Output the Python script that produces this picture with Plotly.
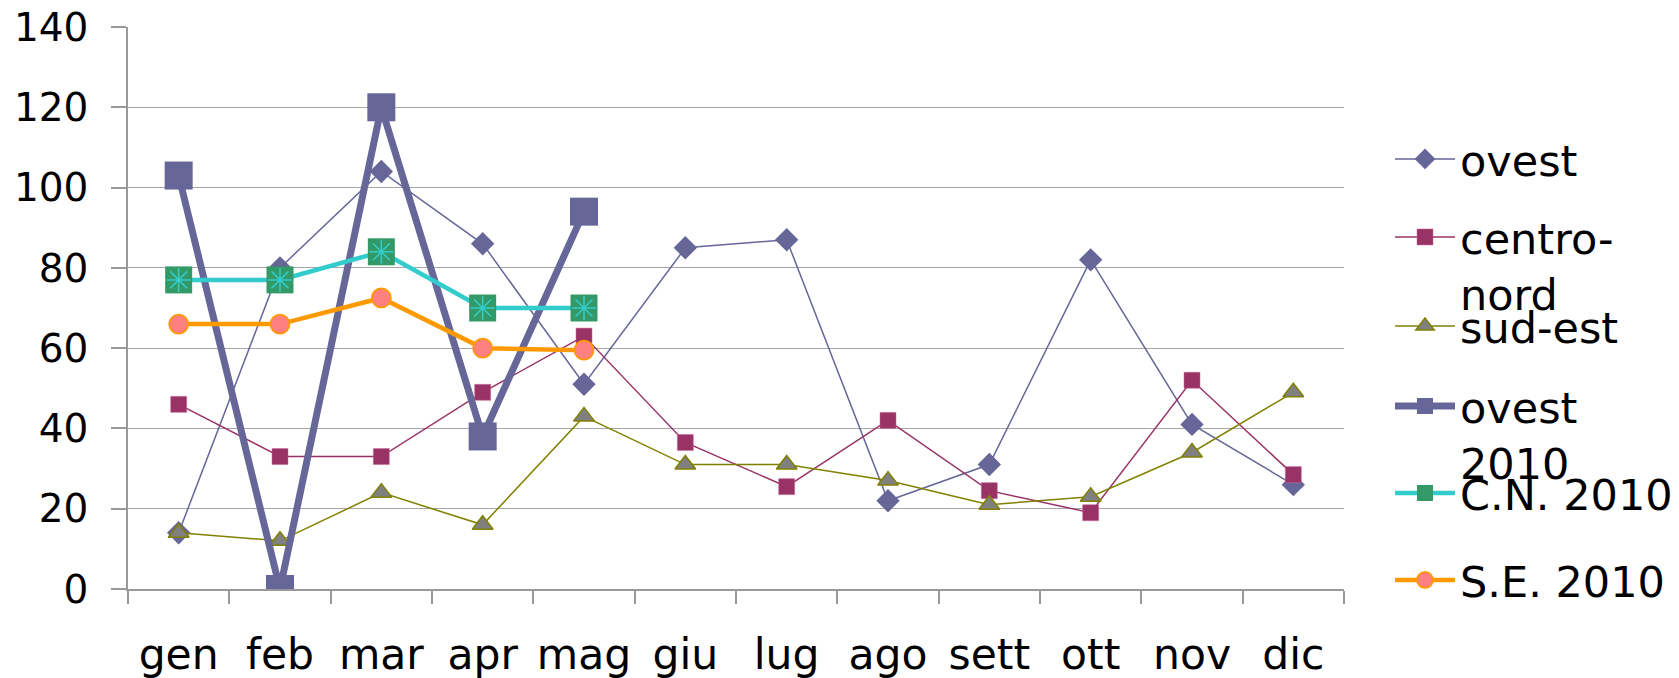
import plotly.graph_objects as go

months = ["gen", "feb", "mar", "apr", "mag", "giu", "lug", "ago", "sett", "ott", "nov", "dic"]
ovest = [14, 80, 104, 86, 51, 85, 87, 22, 31, 82, 41, 26]
centro_nord = [46, 33, 33, 49, 63, 36.5, 25.5, 42, 24.5, 19, 52, 28.5]
sud_est = [14, 12, 24, 16, 43, 31, 31, 27, 21, 23, 34, 49]
ovest_2010 = [103, 0, 120, 38, 94]
cn_2010 = [77, 77, 84, 70, 70]
se_2010 = [66, 66, 72.5, 60, 59.5]
y_ticks = [0, 20, 40, 60, 80, 100, 120, 140]

FONT = "DejaVu Sans, Liberation Sans, sans-serif"
OFF = 8  # page body margin
W, H = 1679 - OFF, 678 - OFF
# plot area in page pixels: x 128..1344, y 27..589
L, T = 128 - OFF, 27 - OFF
R = W - (1344 - OFF)
B = H - (589 - OFF)
PH = H - T - B

def py(p):  # page pixel y -> paper
    return (589 - p) / PH

def px(p):  # page pixel x -> paper
    return (p - 128) / (1344 - 128)

fig = go.Figure()
fig.add_trace(go.Scatter(x=months, y=ovest, name="ovest", mode="lines+markers",
                         line=dict(color="#666699", width=1.5),
                         marker=dict(symbol="diamond", size=18, color="#666699"),
                         legend="legend"))
fig.add_trace(go.Scatter(x=months, y=centro_nord, name="centro-<br>nord", mode="lines+markers",
                         line=dict(color="#993366", width=1.5),
                         marker=dict(symbol="square", size=16, color="#993366",
                                     line=dict(color="#cc6699", width=0.5)),
                         legend="legend2"))
fig.add_trace(go.Scatter(x=months, y=sud_est, name="sud-est", mode="lines+markers",
                         line=dict(color="#808000", width=1.5),
                         marker=dict(symbol="triangle-up", size=18, color="#808080",
                                     line=dict(color="#808000", width=1.5)),
                         legend="legend3"))
fig.add_trace(go.Scatter(x=months[:5], y=ovest_2010, name="ovest<br>2010", mode="lines+markers",
                         line=dict(color="#666699", width=7),
                         marker=dict(symbol="square", size=28, color="#666699"),
                         legend="legend4"))
fig.add_trace(go.Scatter(x=months[:5], y=cn_2010, name="C.N. 2010", mode="lines+markers",
                         line=dict(color="#33CCCC", width=4.5),
                         marker=dict(symbol="square", size=27, color="#339966"),
                         legend="legend5"))
fig.add_trace(go.Scatter(x=months[:5], y=cn_2010, name="C.N. 2010", mode="markers",
                         marker=dict(symbol="asterisk-open", size=20, color="#33CCCC",
                                     line=dict(color="#33CCCC", width=1.5)),
                         showlegend=False, hoverinfo="skip", legend="legend5"))
fig.add_trace(go.Scatter(x=months[:5], y=se_2010, name="S.E. 2010", mode="lines+markers",
                         line=dict(color="#FF9900", width=4.5),
                         marker=dict(symbol="circle", size=19, color="#FF8080",
                                     line=dict(color="#FF9900", width=1.8)),
                         legend="legend6"))

legend_font = dict(family=FONT, size=43, color="black")
lx = px(1390)
centers = [159, 265, 326, 434, 493, 580]
layout_legends = {}
for i, c in enumerate(centers):
    key = "legend" if i == 0 else f"legend{i+1}"
    layout_legends[key] = dict(x=lx, xanchor="left", y=py(c), yanchor="middle",
                               font=legend_font, bgcolor="rgba(0,0,0,0)",
                               valign="top", itemsizing="trace", itemwidth=60)

fig.update_layout(
    width=W, height=H,
    margin=dict(l=L, r=R, t=T, b=B, autoexpand=False),
    paper_bgcolor="white", plot_bgcolor="white",
    showlegend=True,
    **layout_legends,
)
fig.update_xaxes(
    type="category", categoryorder="array", categoryarray=months,
    range=[-0.5, 11.5],
    showline=True, linecolor="#999999", linewidth=1.5,
    ticks="outside", tickson="boundaries", ticklen=13, tickcolor="#999999", tickwidth=1.5,
    tickfont=dict(family=FONT, size=42.5, color="black"),
    tickangle=0, ticklabeloverflow="allow",
    ticklabelstandoff=27,
    showgrid=False, zeroline=False,
)
fig.update_yaxes(
    range=[0, 140], tickvals=y_ticks,
    showline=True, linecolor="#999999", linewidth=1.5,
    ticks="outside", ticklen=15, tickcolor="#999999", tickwidth=1.5,
    tickfont=dict(family=FONT, size=39, color="black"),
    ticklabeloverflow="allow",
    ticklabelstandoff=15,
    showgrid=True, gridcolor="#a6a6a6", gridwidth=1.2,
    zeroline=False,
)
fig.write_html("out.html")
